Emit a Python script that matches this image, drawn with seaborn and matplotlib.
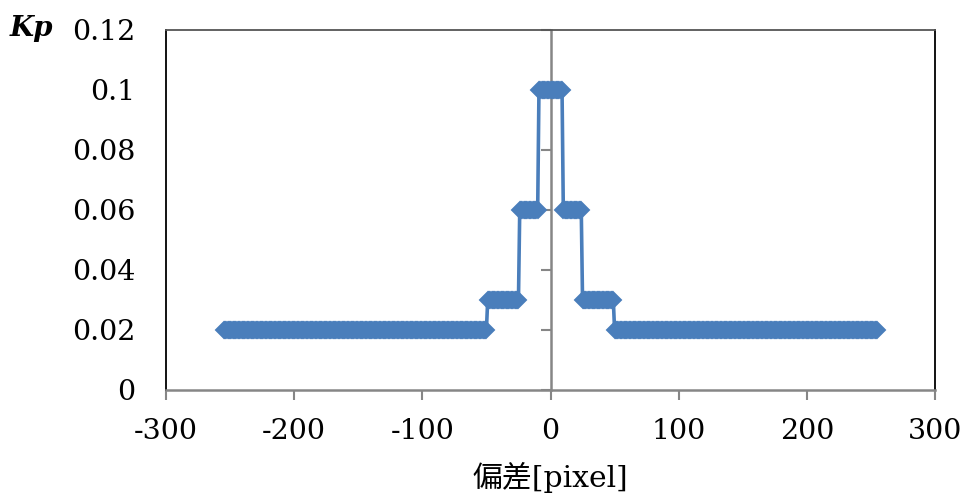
import numpy as np
import pandas as pd
import matplotlib
matplotlib.use("Agg")
import matplotlib.pyplot as plt
import seaborn as sns

# Step segments: (start pixel, end pixel, Kp)
seg_start = [-255, -49, -24, -9, 10, 25, 50]
seg_end   = [-50, -25, -10, 9, 24, 49, 255]
seg_kp    = [0.02, 0.03, 0.06, 0.10, 0.06, 0.03, 0.02]

x_ticks = [-300, -200, -100, 0, 100, 200, 300]
y_ticks = [0, 0.02, 0.04, 0.06, 0.08, 0.1, 0.12]
y_ticklabels = ["0", "0.02", "0.04", "0.06", "0.08", "0.1", "0.12"]

xs, ys = [], []
for s, e, k in zip(seg_start, seg_end, seg_kp):
    for v in range(s, e + 1):
        xs.append(v)
        ys.append(k)
df = pd.DataFrame({"dev": xs, "kp": ys})

sns.set_theme(style="white")
plt.rcParams["font.family"] = ["DejaVu Serif", "Noto Sans CJK JP"]

fig = plt.figure(figsize=(9.67, 5.0), dpi=100)
ax = fig.add_axes([166 / 967, 1 - 390 / 500, (935 - 166) / 967, (390 - 30) / 500])

color = "#4A7EBB"
sns.lineplot(data=df, x="dev", y="kp", ax=ax, color=color, linewidth=2.6,
             marker="D", markersize=8.0, mec=color, mew=1.4,
             markerfacecolor=color, estimator=None, sort=False, zorder=3)
for ln in ax.lines:
    ln.set_markeredgecolor(color)
    ln.set_markerfacecolor(color)
    ln.set_markeredgewidth(1.4)
    ln.set_snap(False)

ax.set_xlim(-300, 300)
ax.set_ylim(0, 0.12)
ax.set_xticks(x_ticks)
ax.set_xticklabels([str(t) for t in x_ticks])
ax.set_yticks(y_ticks)
ax.set_yticklabels(y_ticklabels)

gray = "#868686"
ax.spines["bottom"].set_color(gray)
ax.spines["bottom"].set_linewidth(1.8)
ax.spines["top"].set_color("#555555")
ax.spines["top"].set_linewidth(1.3)
for side in ["left", "right"]:
    ax.spines[side].set_color("black")
    ax.spines[side].set_linewidth(1.3)
    ax.spines[side].set_visible(True)
ax.spines["top"].set_visible(True)

ax.tick_params(axis="x", which="major", direction="out", length=7.5, width=1.5,
               color=gray, pad=13, labelsize=20.5, labelcolor="black", bottom=True)
ax.tick_params(axis="y", which="major", length=0, pad=22, labelsize=20.5,
               labelcolor="black", left=True)

# Vertical value axis crossing at x = 0 (ticks pointing left)
sec = ax.secondary_yaxis(0.5)
sec.set_yticks(y_ticks)
sec.set_yticklabels([""] * len(y_ticks))
for sname, sp in sec.spines.items():
    sp.set_color(gray)
    sp.set_linewidth(1.8)
sec.tick_params(axis="y", which="both", left=False, right=True, direction="in",
                length=7.5, width=1.5, color=gray)

ax.set_xlabel("偏差[pixel]", fontsize=21.5, color="black", labelpad=12)
ax.set_ylabel("")
fig.text(10 / 967, 1 - 28 / 500, "Kp", fontsize=20, fontweight="bold",
         fontstyle="italic", va="center", ha="left", color="black")

fig.savefig("out.png", dpi=100)
